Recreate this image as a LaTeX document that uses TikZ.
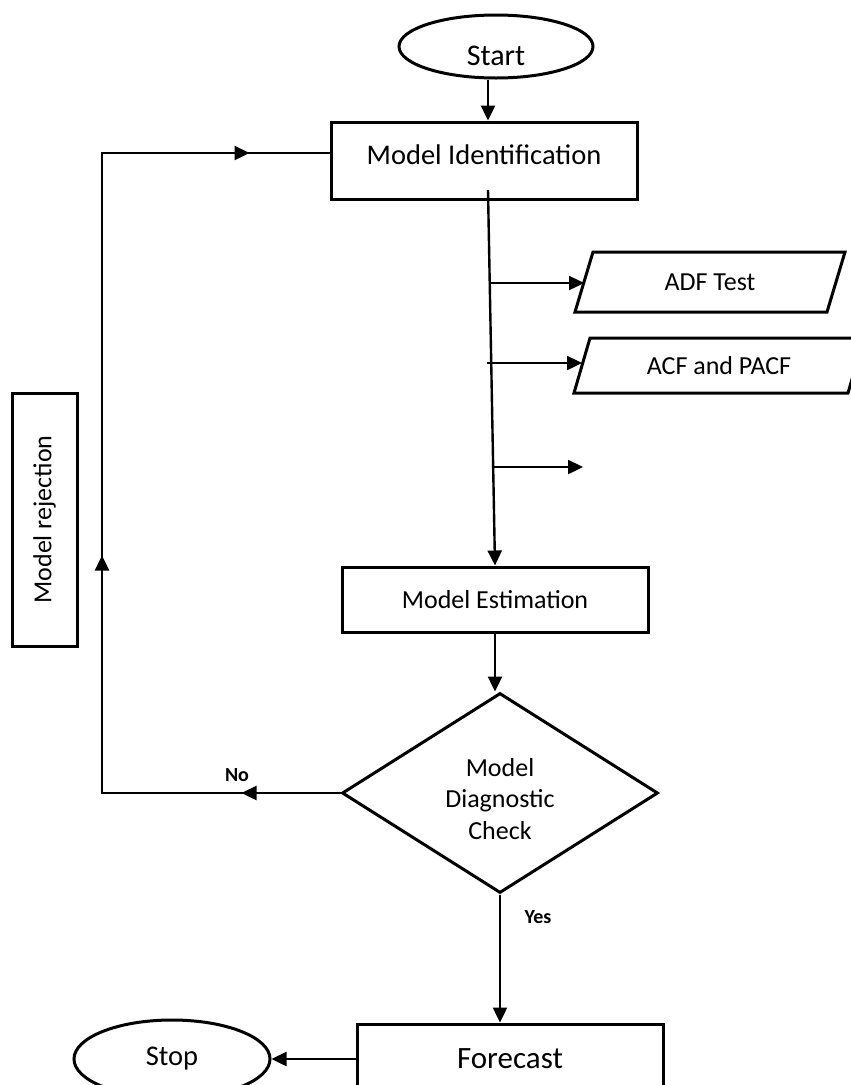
\documentclass[tikz,border=0pt]{standalone}
\usepackage{fontspec}
\setmainfont{Carlito}
\usetikzlibrary{arrows.meta,shapes.geometric,decorations.markings,calc}

% font sizes used in the chart
\newcommand\fsBig{\fontsize{30}{36}\selectfont}
\newcommand\fsMid{\fontsize{28.5}{34}\selectfont}
\newcommand\fsTxt{\fontsize{26}{31.5}\selectfont}
\newcommand\fsTag{\bfseries\fontsize{20}{24}\selectfont}

\tikzset{
  shapeline/.style={line width=3pt},
  box/.style={shapeline, draw, rectangle, inner sep=0pt},
  term/.style={shapeline, draw, ellipse, inner sep=0pt},
  io/.style={rectangle, inner sep=0pt, outer sep=0pt, font=\fsTxt},
  decision/.style={shapeline, draw, diamond, inner sep=0pt},
  conn/.style={line width=2.4pt, -{Triangle[length=15pt,width=14pt]}},
  wire/.style={line width=2.4pt},
  tag/.style={font=\fsTag},
}

\begin{document}
\begin{tikzpicture}[x=1pt,y=-1pt]
  \useasboundingbox (0,0) rectangle (851,1085);
  \fill[white] (0,0) rectangle (851,1085);
  \clip (0,0) rectangle (851,1085);

  % terminals and process boxes
  \node[term, minimum width=194pt, minimum height=63pt,
        label={[font=\fsBig, yshift=-9pt]center:Start}] (start) at (496,46.5) {};
  \node[box, minimum width=306pt, minimum height=77pt,
        label={[font=\fsMid, yshift=6pt]center:Model Identification}] (mid) at (484,160.5) {};
  \node[box, minimum width=306pt, minimum height=65pt, font=\fsTxt] (est) at (495,599.5) {Model Estimation};
  \node[decision, minimum width=316pt, minimum height=200pt,
        label={[font=\fsTxt, align=center, yshift=-6pt]center:Model\\Diagnostic\\Check}] (dia) at (500,793) {};
  \node[box, minimum width=306pt, minimum height=70pt, font={\fontsize{31}{37}\selectfont}] (fc) at (510,1059) {Forecast};
  \node[term, minimum width=196pt, minimum height=78pt, font=\fsMid] (stop) at (172,1059) {\raisebox{-3pt}{Stop}};
  \node[box, rotate=90, minimum width=253pt, minimum height=65pt, font=\fsTxt] (rej) at (44.5,519.5) {Model rejection};

  % input/output parallelograms
  \node[io, minimum width=252pt, minimum height=60pt] (adf) at (710,282) {ADF Test};
  \draw[shapeline] ([xshift=-9pt]adf.south west) -- ([xshift=9pt]adf.north west)
        -- ([xshift=9pt]adf.north east) -- ([xshift=-9pt]adf.south east) -- cycle;
  \node[io, minimum width=274pt, minimum height=55pt] (acf) at (719,365.5) {\raisebox{-4pt}{ACF and PACF}};
  \draw[shapeline] ([xshift=-8pt]acf.south west) -- ([xshift=8pt]acf.north west)
        -- ([xshift=8pt]acf.north east) -- ([xshift=-8pt]acf.south east) -- cycle;

  % main flow
  \coordinate (idfoot) at (488,190);
  \draw[conn] (start.south -| idfoot) -- (mid.north -| idfoot);
  \draw[conn] (idfoot) -- (est.north);

  \coordinate (b1) at (489.5,283);
  \coordinate (b2) at (487,363);
  \coordinate (b3) at (493,467);
  \coordinate (b3e) at (583,467);
  \draw[conn] (b1) -- (b1 -| adf.west);
  \draw[conn] (b2) -- (b2 -| acf.west);
  \draw[conn] (b3) -- (b3e);

  \draw[conn] (est.south) -- (est.south |- dia.north);
  \draw[conn] (dia.south) -- (dia.south |- fc.north);
  \draw[conn] (fc.west) -- (stop.east);

  % feedback loop on rejection
  \coordinate (fbb) at (102,793);
  \coordinate (fbt) at (102,153);
  \draw[wire, postaction={decorate}, decoration={markings,
        mark=at position 99pt with {\arrow{Triangle[length=15pt,width=14pt]}},
        mark=at position 476pt with {\arrow{Triangle[length=15pt,width=14pt]}},
        mark=at position 1026pt with {\arrow{Triangle[length=15pt,width=14pt]}}}]
    (dia.west) -- (fbb) -- (fbt) -- (mid.west |- fbt);

  % branch labels
  \node[tag] (no) at (237,775) {No};
  \node[tag] (yes) at (538,917) {Yes};
\end{tikzpicture}
\end{document}
